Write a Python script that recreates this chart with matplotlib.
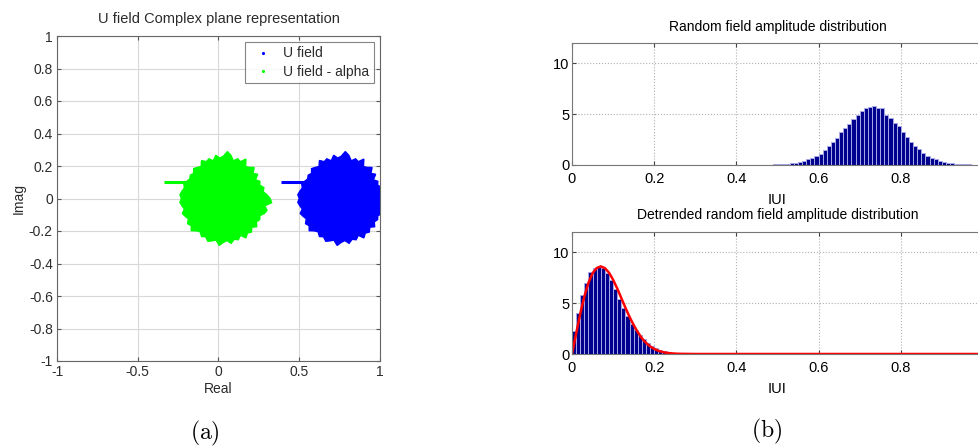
import numpy as np
import matplotlib
matplotlib.use("Agg")
import matplotlib.pyplot as plt
from matplotlib.lines import Line2D

plt.rcParams['font.family'] = ['Liberation Sans', 'DejaVu Sans']
plt.rcParams['mathtext.fontset'] = 'cm'

# ---- data ----
# outline of the U field cloud around its centre: radius every 5 degrees
cloud_radius = [0.29, 0.27, 0.25, 0.26, 0.24, 0.25, 0.23, 0.26, 0.24, 0.27,
                0.25, 0.24, 0.28, 0.25, 0.26, 0.24, 0.27, 0.29, 0.26, 0.25,
                0.27, 0.24, 0.26, 0.25, 0.27, 0.24, 0.25, 0.26, 0.24, 0.25,
                0.24, 0.25, 0.26, 0.25, 0.26, 0.27, 0.26, 0.27, 0.26, 0.25,
                0.27, 0.26, 0.25, 0.27, 0.26, 0.28, 0.26, 0.25, 0.27, 0.26,
                0.28, 0.27, 0.26, 0.29, 0.27, 0.26, 0.28, 0.26, 0.27, 0.25,
                0.28, 0.26, 0.27, 0.25, 0.27, 0.25, 0.26, 0.25, 0.27, 0.28,
                0.26, 0.30]
cloud_step = 5
# thin horizontal streak on the left of each cloud (dx from, dx to, dy)
streak = (-0.37, -0.22, 0.10)
u_centre = (0.76, 0.0)
alpha = 0.73

# |U| histogram (bin width 0.01, from 0.40)
top_bin_start = 0.40
top_counts = [0.01, 0.01, 0.01, 0.02, 0.02, 0.02, 0.03, 0.03, 0.04, 0.05,
              0.06, 0.10, 0.13, 0.15, 0.23, 0.33, 0.42, 0.55, 0.69, 0.85,
              1.11, 1.44, 1.83, 2.22, 2.65, 3.24, 3.63, 4.08, 4.48, 4.90,
              5.33, 5.56, 5.75, 5.78, 5.65, 5.56, 4.90, 4.64, 4.18, 3.82,
              3.20, 2.78, 2.29, 1.86, 1.54, 1.18, 0.92, 0.72, 0.56, 0.42,
              0.29, 0.23, 0.20, 0.13, 0.10, 0.07, 0.05, 0.04, 0.03, 0.02]

# detrended |U| histogram (bin width 0.01, from 0)
bot_bin_start = 0.0
bot_counts = [2.25, 4.08, 5.78, 7.00, 8.10, 8.45, 8.56, 8.45, 7.97, 7.25,
              6.37, 5.40, 4.48, 3.70, 3.00, 2.40, 1.86, 1.44, 1.11, 0.82,
              0.56, 0.38, 0.25, 0.15, 0.10, 0.05, 0.03, 0.02]
bin_w = 0.01

# fitted curve
fit_x = [0, 0.01, 0.02, 0.03, 0.04, 0.05, 0.06, 0.07, 0.08, 0.09, 0.10, 0.11,
         0.12, 0.13, 0.14, 0.15, 0.16, 0.17, 0.18, 0.19, 0.20, 0.21, 0.22,
         0.23, 0.24, 0.25, 0.26, 0.28, 0.30, 0.60, 1.00]
fit_y = [0, 2.0, 3.95, 5.65, 7.0, 7.95, 8.45, 8.62, 8.45, 8.0, 7.3, 6.45,
         5.5, 4.55, 3.65, 2.85, 2.15, 1.55, 1.1, 0.75, 0.5, 0.32, 0.2, 0.12,
         0.07, 0.04, 0.02, 0.01, 0.0, 0.0, 0.0]

W, H = 979, 447
fig = plt.figure(figsize=(W / 100, H / 100), dpi=100)

def box(l, t, r, b):
    return [l / W, 1 - b / H, (r - l) / W, (b - t) / H]

# ---- (a) complex plane ----
txt = '#2b2b2b'
ax = fig.add_axes(box(57, 36, 380, 361))
th = np.deg2rad(np.arange(len(cloud_radius)) * cloud_step)
dx = np.array(cloud_radius) * np.cos(th)
dy = np.array(cloud_radius) * np.sin(th)
for cx, col in [(u_centre[0], '#0000ff'), (u_centre[0] - alpha, '#00ff00')]:
    ax.fill(cx + dx, u_centre[1] + dy, color=col, lw=1.0, ec=col)
    ax.plot([cx + streak[0], cx + streak[1]], [streak[2], streak[2]],
            color=col, lw=2.2, solid_capstyle='butt')
ax.set_xlim(-1, 1)
ax.set_ylim(-1, 1)
ax.set_xticks([-1, -0.5, 0, 0.5, 1])
ax.set_xticklabels(['-1', '-0.5', '0', '0.5', '1'])
yt = [-1, -0.8, -0.6, -0.4, -0.2, 0, 0.2, 0.4, 0.6, 0.8, 1]
ax.set_yticks(yt)
ax.set_yticklabels(['-1', '-0.8', '-0.6', '-0.4', '-0.2', '0', '0.2', '0.4',
                    '0.6', '0.8', '1'])
ax.grid(True, color='#d8d8d8', lw=0.8)
ax.set_axisbelow(True)
ax.tick_params(direction='in', length=3, labelsize=10, colors='#555555',
               labelcolor=txt, top=True, right=True, pad=3)
for s in ax.spines.values():
    s.set_color('#666666')
ax.set_title('U field Complex plane representation', fontsize=10.5,
             color=txt, pad=9)
ax.set_xlabel('Real', fontsize=10, color=txt, labelpad=2)
ax.set_ylabel('Imag', fontsize=10, color=txt, labelpad=2)
handles = [Line2D([], [], ls='none', marker='.', ms=2.5, color='#0000ff'),
           Line2D([], [], ls='none', marker='.', ms=2.5, color='#00ff00')]
leg = ax.legend(handles, ['U field', 'U field - alpha'], loc='upper right',
                fontsize=10, frameon=True, fancybox=False, borderaxespad=0.4,
                handletextpad=0.6, borderpad=0.35, labelspacing=0.3,
                handlelength=1.8)
leg.get_frame().set_edgecolor('#666666')
leg.get_frame().set_linewidth(0.8)
for t in leg.get_texts():
    t.set_color(txt)

# ---- (b) histograms ----
def hist_axes(rect, start, counts, title):
    a = fig.add_axes(rect)
    left = start + bin_w * np.arange(len(counts))
    a.bar(left, counts, width=bin_w, align='edge', color='#00008f',
          edgecolor='#a8a8e8', lw=0.7)
    a.set_xlim(0, 1)
    a.set_ylim(0, 12)
    a.set_xticks([0, 0.2, 0.4, 0.6, 0.8])
    a.set_xticklabels(['0', '0.2', '0.4', '0.6', '0.8'])
    a.set_yticks([0, 5, 10])
    a.grid(True, color='#b0b0b0', ls=':', lw=0.8)
    a.set_axisbelow(True)
    a.tick_params(direction='in', length=3, labelsize=10.5, top=True,
                  right=True, colors='#444444', labelcolor='black')
    a.tick_params(axis='x', pad=5)
    a.tick_params(axis='y', pad=2)
    for s in a.spines.values():
        s.set_color('#777777')
    a.set_title(title, fontsize=10, pad=9)
    a.set_xlabel('IUI', fontsize=10.5, labelpad=5)
    return a

ax1 = hist_axes(box(572, 43, 983, 165), top_bin_start, top_counts,
                'Random field amplitude distribution')
ax2 = hist_axes(box(572, 232, 983, 354), bot_bin_start, bot_counts,
                'Detrended random field amplitude distribution')
ax2.plot(fit_x, fit_y, color='#ff0000', lw=1.8)

fig.text(205 / W, 1 - 433 / H, r'$\mathrm{(a)}$', fontsize=17,
         ha='center', va='center')
fig.text(767 / W, 1 - 431 / H, r'$\mathrm{(b)}$', fontsize=17,
         ha='center', va='center')

fig.savefig('out.png', dpi=100)
